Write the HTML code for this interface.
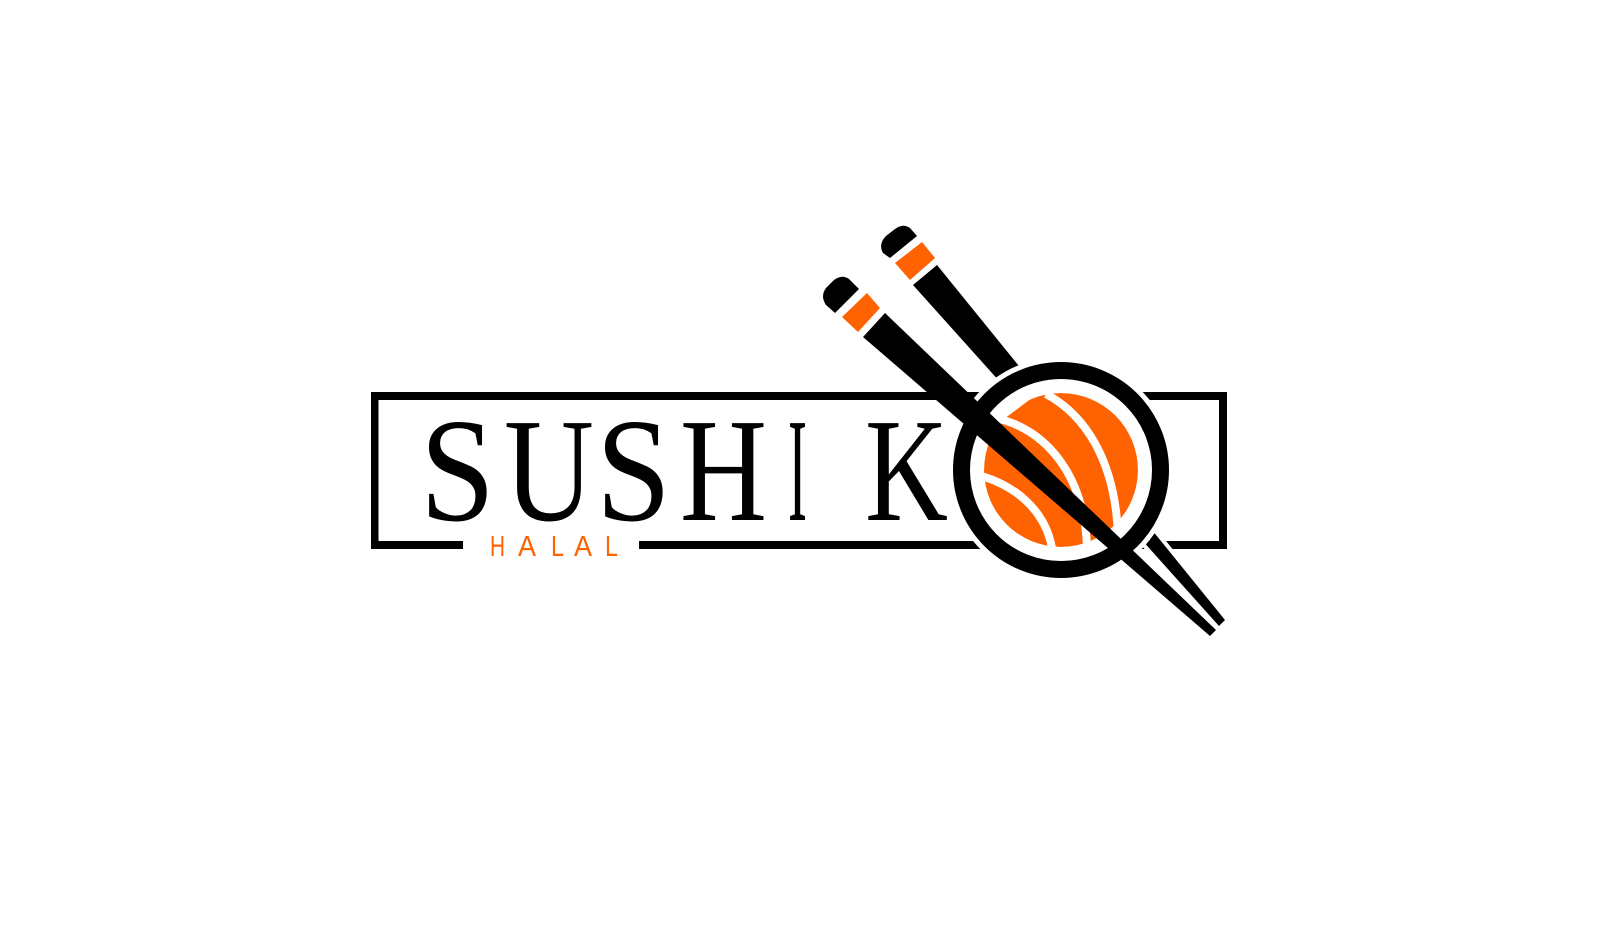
<!DOCTYPE html>
<html><head><meta charset="utf-8"><style>html,body{margin:0;padding:0;background:#fff}svg{display:block}</style></head>
<body>
<svg width="1600" height="946" viewBox="0 0 1600 946" xmlns="http://www.w3.org/2000/svg">
<defs>
<clipPath id="disk"><circle cx="1061" cy="470" r="77"/></clipPath>
</defs>
<g fill="#000">
<rect x="371" y="392" width="856" height="8"/>
<rect x="371" y="392" width="7.5" height="157"/>
<rect x="1219" y="392" width="8" height="157"/>
<rect x="371" y="541" width="92" height="8"/>
<rect x="639" y="541" width="588" height="8"/>
</g>
<g font-family="'Liberation Serif',serif" font-size="148" fill="#000">
<text x="420" y="520" textLength="75" lengthAdjust="spacingAndGlyphs">S</text>
<text x="504" y="520" textLength="90" lengthAdjust="spacingAndGlyphs">U</text>
<text x="596" y="520" textLength="75" lengthAdjust="spacingAndGlyphs">S</text>
<text x="680" y="520" textLength="87" lengthAdjust="spacingAndGlyphs">H</text>
<text x="788" y="520" textLength="19" lengthAdjust="spacingAndGlyphs">I</text>
<text x="865" y="520" textLength="83" lengthAdjust="spacingAndGlyphs">K</text>
</g>
<g font-family="'Liberation Sans',sans-serif" font-size="29" fill="#ff6200">
<text x="490" y="556" textLength="15" lengthAdjust="spacingAndGlyphs">H</text>
<text x="518" y="556" textLength="18" lengthAdjust="spacingAndGlyphs">A</text>
<text x="551" y="556" textLength="13" lengthAdjust="spacingAndGlyphs">L</text>
<text x="574" y="556" textLength="18" lengthAdjust="spacingAndGlyphs">A</text>
<text x="605" y="556" textLength="13" lengthAdjust="spacingAndGlyphs">L</text>
</g>
<polygon points="913,285 937,265 1225,620 1219,626" fill="#000" stroke="#fff" stroke-width="8" stroke-linejoin="round"/>
<polygon points="913,285 937,265 1225,620 1219,626" fill="#000"/>
<path d="M890,258 L883,253 Q878,244 886,236 L895,229 Q903,223 910,228 L917,236 Z" fill="#000"/>
<polygon points="895,263 922,242 935,258 910,280" fill="#ff6200"/>
<circle cx="1061" cy="470" r="113" fill="#fff"/>
<circle cx="1061" cy="470" r="99.5" fill="none" stroke="#000" stroke-width="17"/>
<g clip-path="url(#disk)">
<circle cx="1061" cy="470" r="77" fill="#ff6200"/>
<polygon points="960,470 960,380 1060,380 1040,392 1000,422 978,452" fill="#fff"/>
<g fill="none" stroke="#fff" stroke-width="8">
<path d="M1046,394 C1085,415 1115,460 1118,535"/>
<path d="M995,418 C1045,428 1085,475 1087,548"/>
<path d="M978,475 C1015,485 1045,510 1052,548"/>
</g>
</g>
<polygon points="863,337 885,313 1216,630 1210,636" fill="#000"/>
<path d="M835,313 L826,305 Q820,296 826,288 L834,280 Q842,274 849,279 L859,289 Z" fill="#000"/>
<polygon points="842,317 867,293 880,308 858,332" fill="#ff6200"/>
</svg>
</body></html>
